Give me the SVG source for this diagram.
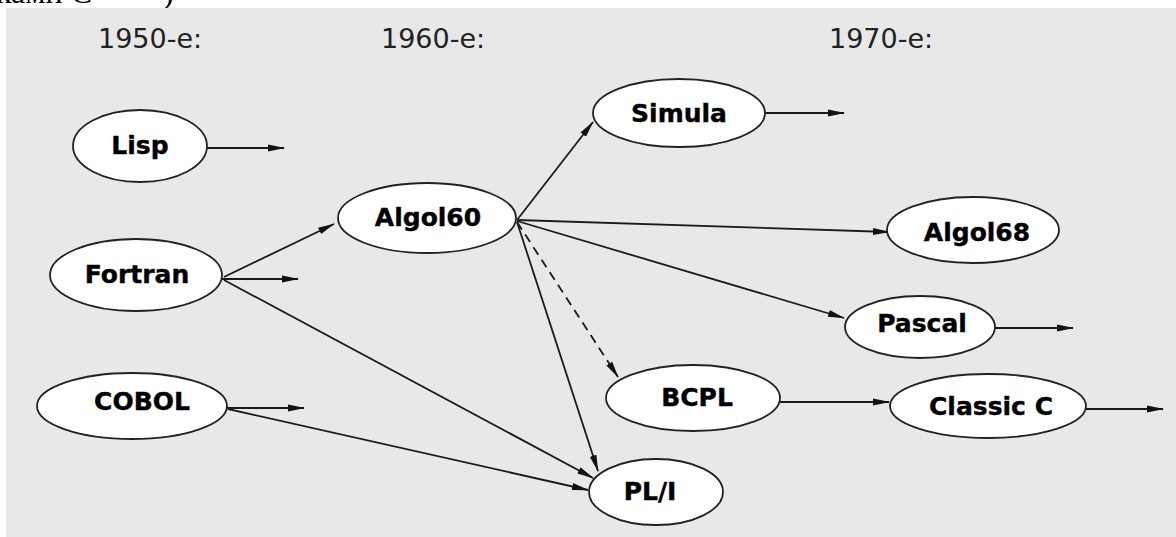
<svg xmlns="http://www.w3.org/2000/svg" width="1176" height="537" viewBox="0 0 1176 537">
  <style>
    .page { font-family: "Liberation Serif", serif; font-size: 32px; fill: #000; }
    .era { font-family: "DejaVu Sans", Verdana, sans-serif; font-size: 27px; fill: #222; }
    .node ellipse { fill: #fff; stroke: #222; stroke-width: 1.8; }
    .node text { font-family: "DejaVu Sans", Verdana, sans-serif; font-weight: bold; font-size: 25px; fill: #000; stroke: #000; stroke-width: 0.4; text-anchor: middle; }
    .edge { fill: none; stroke: #1a1a1a; stroke-width: 1.8; marker-end: url(#arrow); }
    .dashed { stroke-dasharray: 9 6; }
  </style>
  <defs>
    <marker id="arrow" viewBox="0 0 17 9" refX="16" refY="4.5" markerUnits="userSpaceOnUse" markerWidth="17" markerHeight="9" orient="auto">
      <path d="M0,1 L17,4.5 L0,8 Z" fill="#111"/>
    </marker>
  </defs>

  <!-- text line of the page above the figure -->
  <text class="page" x="-4" y="3">ками C<tspan x="127">++)</tspan></text>

  <!-- figure background -->
  <rect x="6" y="8" width="1170" height="529" fill="#e8e8e8"/>

  <!-- decade headings -->
  <text class="era" x="98" y="48">1950-e:</text>
  <text class="era" x="381" y="48">1960-e:</text>
  <text class="era" x="829" y="48">1970-e:</text>

  <!-- connectors -->
  <g id="connectors">
    <line class="edge" x1="207" y1="148" x2="284" y2="148"/>
    <line class="edge" x1="222" y1="279" x2="298" y2="279"/>
    <line class="edge" x1="224" y1="277" x2="334" y2="224"/>
    <line class="edge" x1="224" y1="280" x2="593" y2="478"/>
    <line class="edge" x1="227" y1="408" x2="304" y2="408"/>
    <line class="edge" x1="228" y1="409" x2="588" y2="490"/>
    <line class="edge" x1="517" y1="220" x2="593" y2="122"/>
    <line class="edge" x1="517" y1="220" x2="889" y2="232"/>
    <line class="edge" x1="517" y1="221" x2="844" y2="318"/>
    <line class="edge dashed" x1="517" y1="222" x2="618" y2="377"/>
    <line class="edge" x1="517" y1="222" x2="598" y2="471"/>
    <line class="edge" x1="765" y1="113" x2="844" y2="113"/>
    <line class="edge" x1="995" y1="328" x2="1073" y2="328"/>
    <line class="edge" x1="780" y1="402" x2="889" y2="402"/>
    <line class="edge" x1="1086" y1="409" x2="1163" y2="409"/>
  </g>

  <!-- nodes -->
  <g id="lisp" class="node">
    <ellipse cx="140" cy="146" rx="67" ry="36"/>
    <text x="140" y="154">Lisp</text>
  </g>
  <g id="fortran" class="node">
    <ellipse cx="136" cy="275" rx="86" ry="36"/>
    <text x="137" y="283">Fortran</text>
  </g>
  <g id="cobol" class="node">
    <ellipse cx="132" cy="406" rx="95" ry="33"/>
    <text x="142" y="410">COBOL</text>
  </g>
  <g id="algol60" class="node">
    <ellipse cx="427" cy="218" rx="89" ry="35"/>
    <text x="428" y="226">Algol60</text>
  </g>
  <g id="simula" class="node">
    <ellipse cx="679" cy="113" rx="86" ry="34"/>
    <text x="679" y="122">Simula</text>
  </g>
  <g id="algol68" class="node">
    <ellipse cx="973" cy="230" rx="86" ry="33"/>
    <text x="977" y="241">Algol68</text>
  </g>
  <g id="pascal" class="node">
    <ellipse cx="920" cy="327" rx="75" ry="31"/>
    <text x="922" y="332">Pascal</text>
  </g>
  <g id="bcpl" class="node">
    <ellipse cx="693" cy="398" rx="87" ry="33"/>
    <text x="697" y="406">BCPL</text>
  </g>
  <g id="classic-c" class="node">
    <ellipse cx="988" cy="406" rx="98" ry="32"/>
    <text x="991" y="415">Classic C</text>
  </g>
  <g id="pl1" class="node">
    <ellipse cx="656" cy="492" rx="67" ry="33"/>
    <text x="650" y="500">PL/I</text>
  </g>
</svg>
